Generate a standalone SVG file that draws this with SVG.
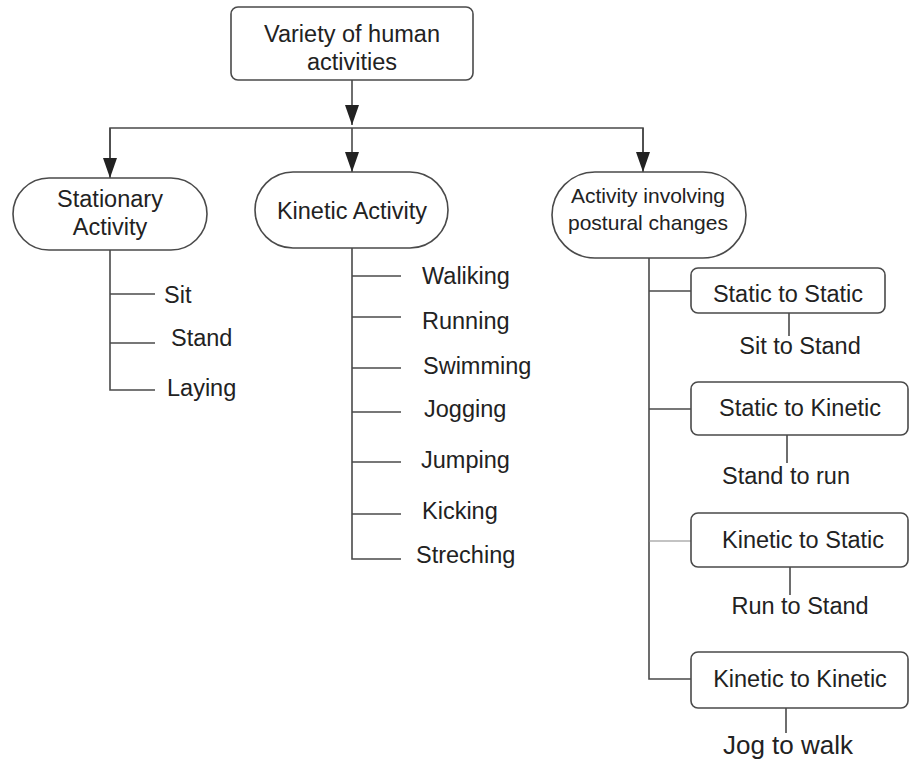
<svg xmlns="http://www.w3.org/2000/svg" width="910" height="760" viewBox="0 0 910 760">
<style>
.box{fill:#fff;stroke:#4a4a4a;stroke-width:1.6}
.ln{fill:none;stroke:#4a4a4a;stroke-width:1.6}
.thin{stroke:#888;stroke-width:1.2}
text{font-family:"Liberation Sans",Arial,sans-serif;font-size:23.5px;fill:#222}
.c{text-anchor:middle}
.sm{font-size:21px}
.lg{font-size:26px}
</style>
<defs>
<marker id="arr" markerUnits="userSpaceOnUse" markerWidth="20" markerHeight="14" viewBox="0 0 20 14" refX="20" refY="7" orient="auto">
<path d="M0,0 L20,7 L0,14 Z" fill="#222"/>
</marker>
</defs>
<rect width="910" height="760" fill="#fff"/>
<g id="connectors">
<line class="ln" x1="352" y1="80" x2="352" y2="125" marker-end="url(#arr)"/>
<polyline class="ln" points="110,160 110,128 643,128 643,160"/>
<line class="ln" x1="110" y1="128" x2="110" y2="178" marker-end="url(#arr)"/>
<line class="ln" x1="352" y1="128" x2="352" y2="172" marker-end="url(#arr)"/>
<line class="ln" x1="643" y1="128" x2="643" y2="172" marker-end="url(#arr)"/>
<polyline class="ln" points="110,250 110,390 155,390"/>
<line class="ln" x1="110" y1="294" x2="155" y2="294"/>
<line class="ln" x1="110" y1="343" x2="155" y2="343"/>
<polyline class="ln" points="352,248 352,559 401,559"/>
<line class="ln" x1="352" y1="276" x2="401" y2="276"/>
<line class="ln" x1="352" y1="317" x2="401" y2="317"/>
<line class="ln" x1="352" y1="368" x2="401" y2="368"/>
<line class="ln" x1="352" y1="412" x2="401" y2="412"/>
<line class="ln" x1="352" y1="462" x2="401" y2="462"/>
<line class="ln" x1="352" y1="514" x2="401" y2="514"/>
<polyline class="ln" points="649,258 649,679 691,679"/>
<line class="ln" x1="649" y1="291" x2="691" y2="291"/>
<line class="ln" x1="649" y1="409" x2="691" y2="409"/>
<line class="ln thin" x1="649" y1="541" x2="691" y2="541"/>
<line class="ln" x1="789" y1="313" x2="789" y2="336"/>
<line class="ln" x1="787" y1="435" x2="787" y2="463"/>
<line class="ln" x1="790" y1="567" x2="790" y2="595"/>
<line class="ln" x1="786" y1="708" x2="786" y2="733"/>
</g>
<g id="root">
<rect class="box" x="231" y="7" width="242" height="73" rx="7"/>
<text class="c" x="352" y="42">Variety of human</text>
<text class="c" x="352" y="70">activities</text>
</g>
<g id="stationary">
<rect class="box" x="13" y="178" width="194" height="72" rx="36"/>
<text class="c" x="110" y="207">Stationary</text>
<text class="c" x="110" y="235">Activity</text>
</g>
<g id="kinetic">
<rect class="box" x="255" y="172" width="193" height="76" rx="38"/>
<text class="c" x="352" y="219">Kinetic Activity</text>
</g>
<g id="postural">
<rect class="box" x="552" y="172" width="194" height="86" rx="43"/>
<text class="c sm" x="648" y="203">Activity involving</text>
<text class="c sm" x="648" y="230">postural changes</text>
</g>
<g id="sit"><text x="164" y="303">Sit</text></g>
<g id="stand"><text x="171" y="346">Stand</text></g>
<g id="laying"><text x="167" y="396">Laying</text></g>
<g id="walking"><text x="422" y="284">Waliking</text></g>
<g id="running"><text x="422" y="329">Running</text></g>
<g id="swimming"><text x="423" y="374">Swimming</text></g>
<g id="jogging"><text x="424" y="417">Jogging</text></g>
<g id="jumping"><text x="421" y="468">Jumping</text></g>
<g id="kicking"><text x="422" y="519">Kicking</text></g>
<g id="streching"><text x="416" y="563">Streching</text></g>
<g id="s2s">
<rect class="box" x="691" y="268" width="194" height="45" rx="7"/>
<text class="c" x="788" y="302">Static to Static</text>
</g>
<g id="s2s-ex"><text class="c" x="800" y="354">Sit to Stand</text></g>
<g id="s2k">
<rect class="box" x="691" y="382" width="217" height="53" rx="7"/>
<text class="c" x="800" y="416">Static to Kinetic</text>
</g>
<g id="s2k-ex"><text class="c" x="786" y="484">Stand to run</text></g>
<g id="k2s">
<rect class="box" x="691" y="513" width="217" height="54" rx="7"/>
<text class="c" x="803" y="548">Kinetic to Static</text>
</g>
<g id="k2s-ex"><text class="c" x="800" y="614">Run to Stand</text></g>
<g id="k2k">
<rect class="box" x="691" y="652" width="217" height="56" rx="7"/>
<text class="c" x="800" y="687">Kinetic to Kinetic</text>
</g>
<g id="k2k-ex"><text class="c lg" x="788" y="754">Jog to walk</text></g>
</svg>
